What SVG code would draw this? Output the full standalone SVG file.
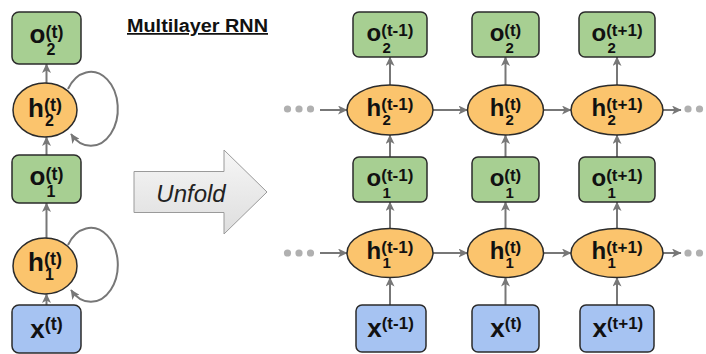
<svg xmlns="http://www.w3.org/2000/svg" width="706" height="354" viewBox="0 0 706 354">
  <defs>
    <marker id="arr" markerUnits="userSpaceOnUse" markerWidth="10" markerHeight="9" refX="9" refY="4.5" orient="auto">
      <path d="M0,0 L9.5,4.5 L0,9 L2.5,4.5 Z" fill="#777"/>
    </marker>
    <linearGradient id="unfoldFill" x1="0" y1="0" x2="0" y2="1">
      <stop offset="0" stop-color="#f6f6f6"/>
      <stop offset="1" stop-color="#dedede"/>
    </linearGradient>
  </defs>
  <style>
    .out { fill: #a7cf92; stroke: #2b2b2b; stroke-width: 1.5; }
    .hid { fill: #fbc46d; stroke: #2b2b2b; stroke-width: 1.5; }
    .inp { fill: #a6c3f2; stroke: #2b2b2b; stroke-width: 1.5; }
    .lbl { font-family: "Liberation Sans", Arial, sans-serif; font-weight: bold; fill: #111; }
    .edge { stroke: #777; stroke-width: 2; fill: none; marker-end: url(#arr); }
    .dot { fill: #b0b0b0; }
  </style>

  <rect width="706" height="354" fill="#fff"/>

  <!-- title -->
  <text x="127" y="32" class="lbl" font-size="17.5" textLength="141" lengthAdjust="spacingAndGlyphs" text-decoration="underline">Multilayer RNN</text>

  <!-- unfold arrow -->
  <g id="unfold">
    <path d="M134,171.5 H224 V150 L267,192 L224,234 V212.5 H134 Z" fill="url(#unfoldFill)" stroke="#9a9a9a" stroke-width="1"/>
    <text x="191" y="202" text-anchor="middle" font-family="'Liberation Sans', Arial, sans-serif" font-style="italic" font-size="24" fill="#222">Unfold</text>
  </g>

  <!-- connectors -->
  <g id="connectors">
    <!-- folded network -->
    <line class="edge" x1="46.5" y1="83" x2="46.5" y2="64"/>
    <line class="edge" x1="46.5" y1="155" x2="46.5" y2="137"/>
    <line class="edge" x1="46.5" y1="238" x2="46.5" y2="203"/>
    <line class="edge" x1="46.5" y1="305" x2="46.5" y2="294"/>
    <path class="edge" d="M68,89 A27,37 0 1 1 71,134"/>
    <path class="edge" d="M68,245 A27,37 0 1 1 71,290"/>

    <!-- unfolded: vertical -->
    <line class="edge" x1="390" y1="85" x2="390" y2="57"/>
    <line class="edge" x1="390" y1="157" x2="390" y2="135"/>
    <line class="edge" x1="390" y1="228.5" x2="390" y2="202"/>
    <line class="edge" x1="390" y1="305" x2="390" y2="277.5"/>
    <line class="edge" x1="505.5" y1="85" x2="505.5" y2="57"/>
    <line class="edge" x1="505.5" y1="157" x2="505.5" y2="135"/>
    <line class="edge" x1="505.5" y1="228.5" x2="505.5" y2="202"/>
    <line class="edge" x1="505.5" y1="305" x2="505.5" y2="277.5"/>
    <line class="edge" x1="617" y1="85" x2="617" y2="57"/>
    <line class="edge" x1="617" y1="157" x2="617" y2="135"/>
    <line class="edge" x1="617" y1="228.5" x2="617" y2="202"/>
    <line class="edge" x1="617" y1="305" x2="617" y2="277.5"/>

    <!-- unfolded: recurrent -->
    <line class="edge" x1="320" y1="110" x2="347" y2="110"/>
    <line class="edge" x1="433" y1="110" x2="467.5" y2="110"/>
    <line class="edge" x1="543.5" y1="110" x2="571" y2="110"/>
    <line class="edge" x1="663" y1="110" x2="681" y2="110"/>
    <line class="edge" x1="320" y1="253" x2="347" y2="253"/>
    <line class="edge" x1="433" y1="253" x2="467.5" y2="253"/>
    <line class="edge" x1="543.5" y1="253" x2="571" y2="253"/>
    <line class="edge" x1="663" y1="253" x2="681" y2="253"/>

    <circle class="dot" cx="287.5" cy="109" r="3.6"/>
    <circle class="dot" cx="299" cy="109" r="3.6"/>
    <circle class="dot" cx="310.5" cy="109" r="3.6"/>
    <circle class="dot" cx="688" cy="109" r="3.6"/>
    <circle class="dot" cx="699.5" cy="109" r="3.6"/>
    <circle class="dot" cx="287.5" cy="253" r="3.6"/>
    <circle class="dot" cx="299" cy="253" r="3.6"/>
    <circle class="dot" cx="310.5" cy="253" r="3.6"/>
    <circle class="dot" cx="688" cy="253" r="3.6"/>
    <circle class="dot" cx="699.5" cy="253" r="3.6"/>
  </g>

  <!-- folded network -->
  <g id="fold_o2">
    <rect class="out" x="12" y="12" width="69" height="52" rx="7"/>
    <text class="lbl"><tspan x="29.5" y="43" font-size="26">o</tspan><tspan x="45.4" y="38" font-size="18">(t)</tspan><tspan x="46.5" y="55" font-size="16">2</tspan></text>
  </g>
  <g id="fold_h2">
    <ellipse class="hid" cx="45" cy="110" rx="32" ry="27"/>
    <text class="lbl"><tspan x="28" y="117" font-size="26">h</tspan><tspan x="43.9" y="111" font-size="18">(t)</tspan><tspan x="45" y="126" font-size="16">2</tspan></text>
  </g>
  <g id="fold_o1">
    <rect class="out" x="12" y="155" width="69" height="48" rx="7"/>
    <text class="lbl"><tspan x="29.5" y="185" font-size="26">o</tspan><tspan x="45.4" y="180" font-size="18">(t)</tspan><tspan x="46.5" y="197" font-size="16">1</tspan></text>
  </g>
  <g id="fold_h1">
    <ellipse class="hid" cx="45" cy="266" rx="32" ry="28"/>
    <text class="lbl"><tspan x="28" y="271" font-size="26">h</tspan><tspan x="43.9" y="265" font-size="18">(t)</tspan><tspan x="45" y="280" font-size="16">1</tspan></text>
  </g>
  <g id="fold_x">
    <rect class="inp" x="12" y="305" width="69" height="48" rx="7"/>
    <text class="lbl"><tspan x="30.3" y="338" font-size="26">x</tspan><tspan x="44.8" y="330" font-size="18">(t)</tspan></text>
  </g>

  <!-- unfolded, step t-1 -->
  <g id="o2_tm1">
    <rect class="out" x="353" y="12" width="74" height="45" rx="6"/>
    <text class="lbl"><tspan x="366.6" y="41" font-size="24">o</tspan><tspan x="381.3" y="36" font-size="17">(t-1)</tspan><tspan x="382.5" y="53" font-size="15">2</tspan></text>
  </g>
  <g id="h2_tm1">
    <ellipse class="hid" cx="390" cy="110" rx="43" ry="25"/>
    <text class="lbl"><tspan x="366.6" y="116" font-size="24">h</tspan><tspan x="381.3" y="110" font-size="17">(t-1)</tspan><tspan x="382.5" y="125" font-size="15">2</tspan></text>
  </g>
  <g id="o1_tm1">
    <rect class="out" x="353" y="157" width="74" height="45" rx="6"/>
    <text class="lbl"><tspan x="366.6" y="186" font-size="24">o</tspan><tspan x="381.3" y="181" font-size="17">(t-1)</tspan><tspan x="382.5" y="198" font-size="15">1</tspan></text>
  </g>
  <g id="h1_tm1">
    <ellipse class="hid" cx="390" cy="253" rx="43" ry="24.5"/>
    <text class="lbl"><tspan x="366.6" y="259" font-size="24">h</tspan><tspan x="381.3" y="253" font-size="17">(t-1)</tspan><tspan x="382.5" y="268" font-size="15">1</tspan></text>
  </g>
  <g id="x_tm1">
    <rect class="inp" x="356" y="305" width="70" height="47" rx="6"/>
    <text class="lbl"><tspan x="367.2" y="337" font-size="26">x</tspan><tspan x="381.7" y="329" font-size="17">(t-1)</tspan></text>
  </g>

  <!-- unfolded, step t -->
  <g id="o2_t">
    <rect class="out" x="472" y="12" width="67" height="45" rx="6"/>
    <text class="lbl"><tspan x="489.7" y="41" font-size="24">o</tspan><tspan x="504.3" y="36" font-size="17">(t)</tspan><tspan x="505.5" y="53" font-size="15">2</tspan></text>
  </g>
  <g id="h2_t">
    <ellipse class="hid" cx="505.5" cy="110" rx="38" ry="25"/>
    <text class="lbl"><tspan x="489.7" y="116" font-size="24">h</tspan><tspan x="504.3" y="110" font-size="17">(t)</tspan><tspan x="505.5" y="125" font-size="15">2</tspan></text>
  </g>
  <g id="o1_t">
    <rect class="out" x="472" y="157" width="67" height="45" rx="6"/>
    <text class="lbl"><tspan x="489.7" y="186" font-size="24">o</tspan><tspan x="504.3" y="181" font-size="17">(t)</tspan><tspan x="505.5" y="198" font-size="15">1</tspan></text>
  </g>
  <g id="h1_t">
    <ellipse class="hid" cx="505.5" cy="253" rx="38" ry="24.5"/>
    <text class="lbl"><tspan x="489.7" y="259" font-size="24">h</tspan><tspan x="504.3" y="253" font-size="17">(t)</tspan><tspan x="505.5" y="268" font-size="15">1</tspan></text>
  </g>
  <g id="x_t">
    <rect class="inp" x="472" y="305" width="67" height="47" rx="6"/>
    <text class="lbl"><tspan x="490.3" y="337" font-size="26">x</tspan><tspan x="504.8" y="329" font-size="17">(t)</tspan></text>
  </g>

  <!-- unfolded, step t+1 -->
  <g id="o2_tp1">
    <rect class="out" x="579" y="12" width="76" height="45" rx="6"/>
    <text class="lbl"><tspan x="591.5" y="41" font-size="24">o</tspan><tspan x="606.2" y="36" font-size="17">(t+1)</tspan><tspan x="607.4" y="53" font-size="15">2</tspan></text>
  </g>
  <g id="h2_tp1">
    <ellipse class="hid" cx="617" cy="110" rx="46" ry="25"/>
    <text class="lbl"><tspan x="591.5" y="116" font-size="24">h</tspan><tspan x="606.2" y="110" font-size="17">(t+1)</tspan><tspan x="607.4" y="125" font-size="15">2</tspan></text>
  </g>
  <g id="o1_tp1">
    <rect class="out" x="579" y="157" width="76" height="45" rx="6"/>
    <text class="lbl"><tspan x="591.5" y="186" font-size="24">o</tspan><tspan x="606.2" y="181" font-size="17">(t+1)</tspan><tspan x="607.4" y="198" font-size="15">1</tspan></text>
  </g>
  <g id="h1_tp1">
    <ellipse class="hid" cx="617" cy="253" rx="46" ry="24.5"/>
    <text class="lbl"><tspan x="591.5" y="259" font-size="24">h</tspan><tspan x="606.2" y="253" font-size="17">(t+1)</tspan><tspan x="607.4" y="268" font-size="15">1</tspan></text>
  </g>
  <g id="x_tp1">
    <rect class="inp" x="580" y="305" width="74" height="47" rx="6"/>
    <text class="lbl"><tspan x="592.4" y="337" font-size="26">x</tspan><tspan x="606.9" y="329" font-size="17">(t+1)</tspan></text>
  </g>
</svg>
